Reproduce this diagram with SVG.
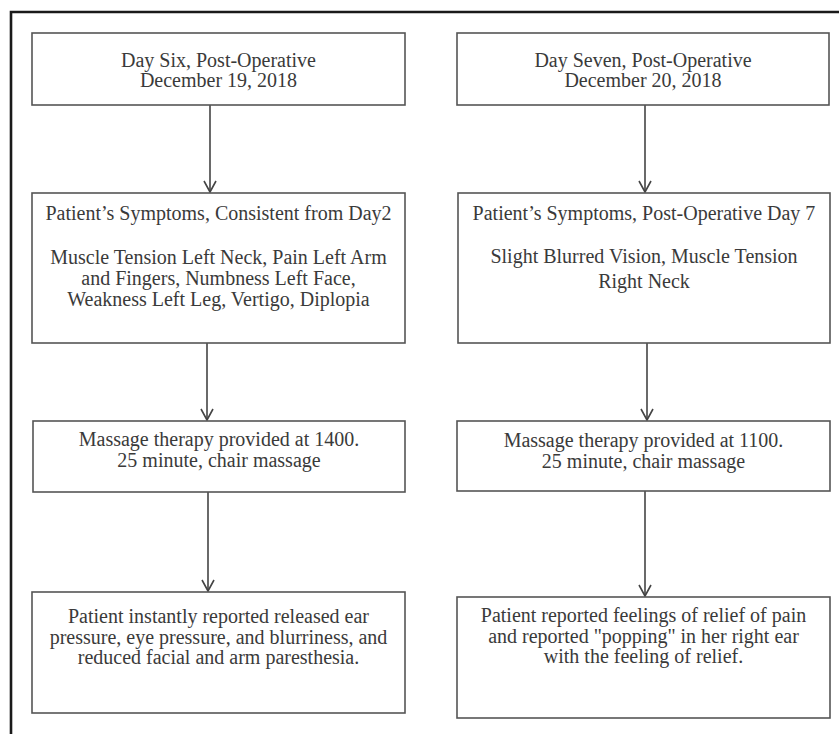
<svg xmlns="http://www.w3.org/2000/svg" width="839" height="734" viewBox="0 0 839 734">
<style>
.box{fill:#fff;stroke:#555;stroke-width:1.6}
.t{font-family:"Liberation Serif","Times New Roman",serif;font-size:20px;fill:#3a3a3a;text-anchor:middle}
.c{stroke:#444;stroke-width:1.6;fill:none}
.frame{stroke:#1a1a1a;stroke-width:2.6;fill:none}
</style>
<defs>
<marker id="arr" markerWidth="14" markerHeight="14" refX="12" refY="7" orient="auto" markerUnits="userSpaceOnUse">
<path d="M1,1 L12,7 L1,13" fill="none" stroke="#444" stroke-width="1.6"/>
</marker>
</defs>
<rect width="839" height="734" fill="#fff"/>
<path class="frame" d="M11,734 L11,12 L839,12"/>
<g id="connectors">
<line class="c" x1="210" y1="105" x2="210" y2="192" marker-end="url(#arr)"/>
<line class="c" x1="207" y1="343" x2="207" y2="420" marker-end="url(#arr)"/>
<line class="c" x1="208" y1="492" x2="208" y2="591" marker-end="url(#arr)"/>
<line class="c" x1="645" y1="105" x2="645" y2="192" marker-end="url(#arr)"/>
<line class="c" x1="647" y1="343" x2="647" y2="420" marker-end="url(#arr)"/>
<line class="c" x1="645" y1="491" x2="645" y2="596" marker-end="url(#arr)"/>
</g>
<g id="l1">
<rect class="box" x="32" y="33" width="373" height="72"/>
<text class="t" x="218.5" y="67">Day Six, Post-Operative</text>
<text class="t" x="218.5" y="87">December 19, 2018</text>
</g>
<g id="l2">
<rect class="box" x="32" y="193" width="373" height="150"/>
<text class="t" x="218.5" y="220">Patient’s Symptoms, Consistent from Day2</text>
<text class="t" x="218.5" y="264">Muscle Tension Left Neck, Pain Left Arm</text>
<text class="t" x="218.5" y="285">and Fingers, Numbness Left Face,</text>
<text class="t" x="218.5" y="306">Weakness Left Leg, Vertigo, Diplopia</text>
</g>
<g id="l3">
<rect class="box" x="33" y="421" width="372" height="71"/>
<text class="t" x="219" y="446">Massage therapy provided at 1400.</text>
<text class="t" x="219" y="467">25 minute, chair massage</text>
</g>
<g id="l4">
<rect class="box" x="32" y="592" width="373" height="121"/>
<text class="t" x="218.5" y="623">Patient instantly reported released ear</text>
<text class="t" x="218.5" y="644">pressure, eye pressure, and blurriness, and</text>
<text class="t" x="218.5" y="664">reduced facial and arm paresthesia.</text>
</g>
<g id="r1">
<rect class="box" x="457" y="33" width="372" height="72"/>
<text class="t" x="643" y="67">Day Seven, Post-Operative</text>
<text class="t" x="643" y="87">December 20, 2018</text>
</g>
<g id="r2">
<rect class="box" x="458" y="193" width="372" height="150"/>
<text class="t" x="644" y="220">Patient’s Symptoms, Post-Operative Day 7</text>
<text class="t" x="644" y="263">Slight Blurred Vision, Muscle Tension</text>
<text class="t" x="644" y="288">Right Neck</text>
</g>
<g id="r3">
<rect class="box" x="457" y="421" width="373" height="70"/>
<text class="t" x="643.5" y="447">Massage therapy provided at 1100.</text>
<text class="t" x="643.5" y="468">25 minute, chair massage</text>
</g>
<g id="r4">
<rect class="box" x="457" y="597" width="373" height="121"/>
<text class="t" x="643.5" y="622">Patient reported feelings of relief of pain</text>
<text class="t" x="643.5" y="643">and reported "popping" in her right ear</text>
<text class="t" x="643.5" y="663">with the feeling of relief.</text>
</g>
</svg>
